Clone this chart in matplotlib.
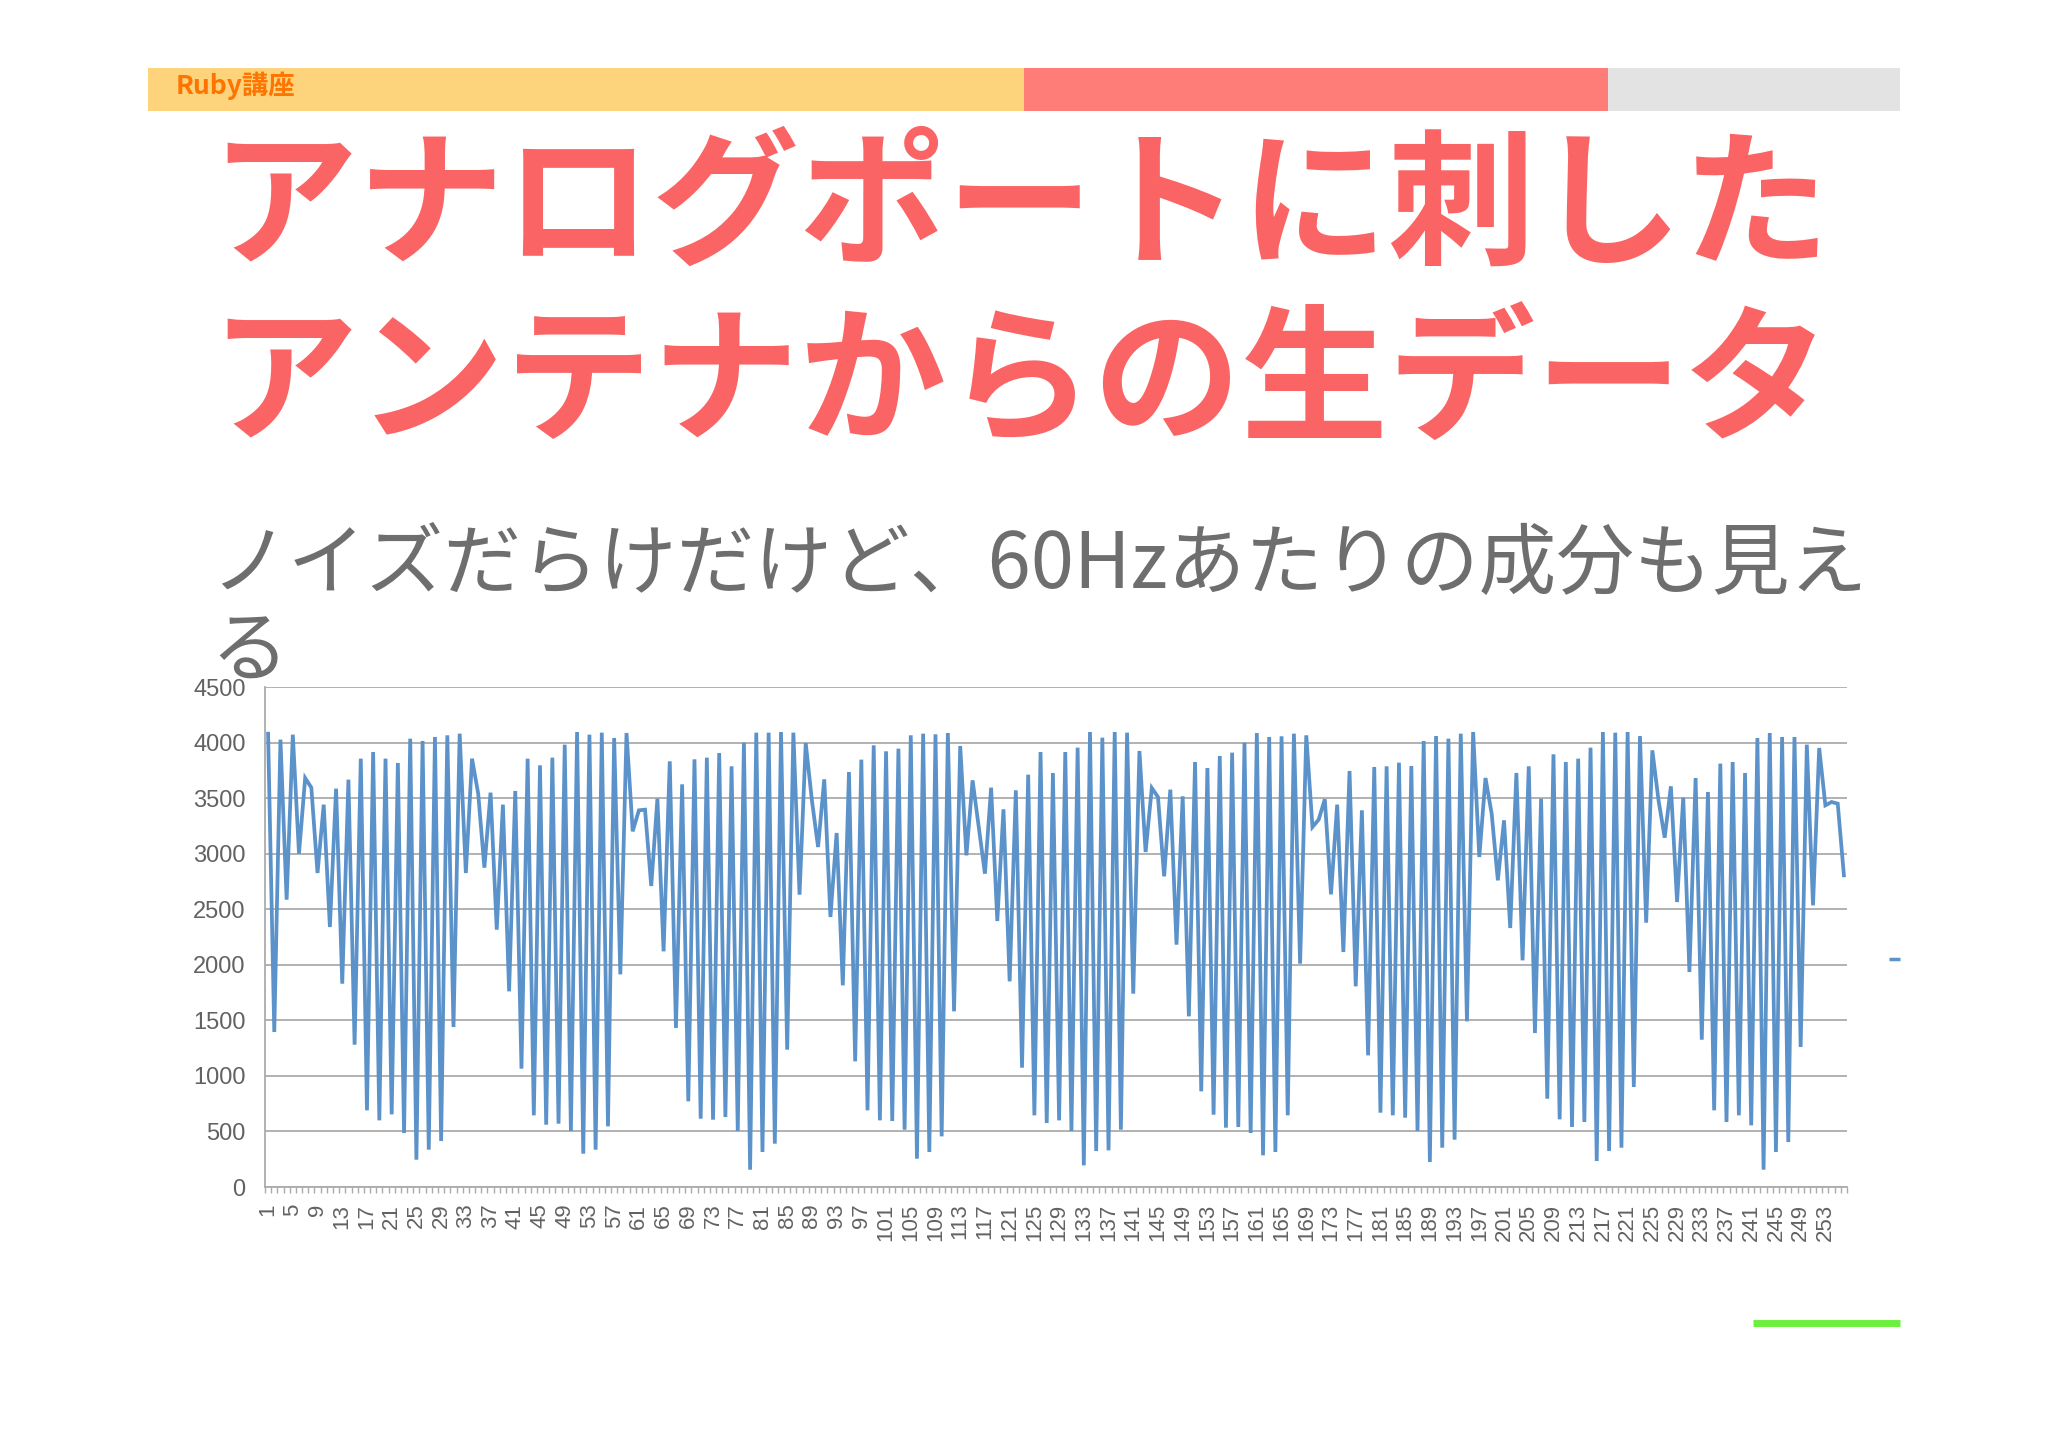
import numpy as np
import matplotlib
matplotlib.use("Agg")
import matplotlib.pyplot as plt
from matplotlib.patches import Rectangle
from matplotlib.lines import Line2D

plt.rcParams['font.family'] = ['Noto Sans CJK JP', 'DejaVu Sans']

# ---- data (raw ADC samples 1..256) ----
sample_values = [
    4080, 1395, 4026, 2586, 4071, 3000, 3681, 3594, 2826, 3441,
    2340, 3585, 1830, 3666, 1281, 3855, 690, 3915, 600, 3855,
    654, 3816, 486, 4035, 246, 4014, 336, 4050, 414, 4065,
    1440, 4080, 2826, 3855, 3540, 2874, 3549, 2316, 3441, 1761,
    3564, 1065, 3855, 645, 3795, 561, 3864, 570, 3981, 504,
    4095, 300, 4071, 336, 4089, 546, 4041, 1914, 4086, 3201,
    3390, 3396, 2709, 3495, 2121, 3831, 1431, 3624, 771, 3849,
    615, 3864, 606, 3906, 630, 3786, 504, 3999, 156, 4089,
    315, 4089, 390, 4095, 1236, 4089, 2631, 3996, 3480, 3060,
    3669, 2430, 3186, 1815, 3735, 1131, 3846, 690, 3975, 600,
    3921, 594, 3945, 516, 4065, 255, 4080, 315, 4074, 456,
    4086, 1581, 3969, 2985, 3660, 3240, 2820, 3594, 2394, 3399,
    1851, 3570, 1074, 3711, 645, 3915, 576, 3726, 600, 3915,
    504, 3954, 195, 4095, 324, 4044, 330, 4095, 516, 4089,
    1740, 3924, 3015, 3591, 3510, 2796, 3576, 2181, 3516, 1536,
    3825, 861, 3771, 651, 3879, 534, 3909, 540, 3999, 486,
    4086, 285, 4050, 315, 4056, 645, 4080, 2010, 4065, 3240,
    3306, 3489, 2634, 3441, 2115, 3744, 1806, 3390, 1185, 3780,
    669, 3786, 645, 3819, 624, 3789, 504, 4014, 225, 4059,
    354, 4035, 426, 4080, 1491, 4095, 2970, 3681, 3360, 2760,
    3300, 2331, 3726, 2040, 3786, 1386, 3495, 795, 3894, 609,
    3825, 540, 3855, 585, 3954, 234, 4095, 324, 4089, 354,
    4095, 900, 4059, 2379, 3930, 3480, 3144, 3606, 2565, 3504,
    1935, 3681, 1326, 3555, 690, 3810, 585, 3825, 645, 3726,
    555, 4041, 156, 4086, 315, 4050, 405, 4050, 1260, 3981,
    2535, 3951, 3435, 3465, 3450, 2805,
]
sample_index = list(range(1, len(sample_values) + 1))
x_tick_labels = [str(i) for i in range(1, len(sample_values) + 1, 4)]
y_ticks = list(range(0, 4501, 500))

header_title = "Ruby講座"
title_lines = ["アナログポートに刺した", "アンテナからの生データ"]
subtitle_lines = ["ノイズだらけだけど、60Hzあたりの成分も見え", "る"]

LINE_BLUE = '#5B92CA'
GRID = '#ABABAB'
TXT_GRAY = '#626262'

fig = plt.figure(figsize=(20.48, 14.48), dpi=100)
fig.patch.set_facecolor('white')

# slide decoration layer in pixel coordinates
bg = fig.add_axes([0, 0, 1, 1])
bg.set_xlim(0, 2048)
bg.set_ylim(1448, 0)
bg.axis('off')

bg.add_patch(Rectangle((148, 68), 876, 43, color='#FDD47C', lw=0))
bg.add_patch(Rectangle((1024, 68), 584, 43, color='#FF7D78', lw=0))
bg.add_patch(Rectangle((1608, 68), 292, 43, color='#E3E3E3', lw=0))
bg.text(176, 86, header_title, fontsize=19, fontweight='bold', color='#FF7400',
        ha='left', va='center')

bg.text(210, 209, title_lines[0], fontsize=106, fontweight='bold', color='#FA6464',
        ha='left', va='center')
bg.text(210, 386, title_lines[1], fontsize=106, fontweight='bold', color='#FA6464',
        ha='left', va='center')

bg.text(210, 566, subtitle_lines[0], fontsize=56, color='#6E6E6E', ha='left', va='center')
bg.text(210, 654, subtitle_lines[1], fontsize=56, color='#6E6E6E', ha='left', va='center')

# legend stub and green accent line
bg.add_line(Line2D([1889, 1900], [959, 959], color=LINE_BLUE, lw=2.5,
                   solid_capstyle='butt'))
bg.add_line(Line2D([1753, 1900], [1323, 1323], color='#6CF03E', lw=5,
                   solid_capstyle='butt'))

# ---- chart ----
ax = fig.add_axes([265 / 2048, 1 - 1187 / 1448, 1582 / 2048, 500 / 1448])
ax.patch.set_alpha(0)
ax.plot(sample_index, sample_values, color=LINE_BLUE, lw=2.7, solid_joinstyle='miter',
        zorder=3)

ax.set_xlim(0.5, len(sample_values) + 0.5)
ax.set_ylim(0, 4500)
ax.set_yticks(y_ticks)
ax.set_yticklabels([str(v) for v in y_ticks], family='Liberation Sans', fontsize=17,
                   color=TXT_GRAY)
ax.yaxis.grid(True, color=GRID, lw=1.3)
ax.set_axisbelow(True)
ax.tick_params(axis='y', length=0, pad=14)

ax.set_xticks(list(range(1, len(sample_values) + 1, 4)))
ax.set_xticklabels(x_tick_labels, rotation=90, family='Liberation Sans', fontsize=16,
                   color=TXT_GRAY, ha='center', va='top')
ax.set_xticks(np.arange(0.5, len(sample_values) + 1, 1), minor=True)
ax.tick_params(axis='x', which='major', length=0, pad=12)
ax.tick_params(axis='x', which='minor', length=4, width=1, color=GRID)

for side in ['top', 'right']:
    ax.spines[side].set_visible(False)
for side in ['left', 'bottom']:
    ax.spines[side].set_color(GRID)
    ax.spines[side].set_linewidth(1.3)

fig.savefig('out.png', dpi=100)
